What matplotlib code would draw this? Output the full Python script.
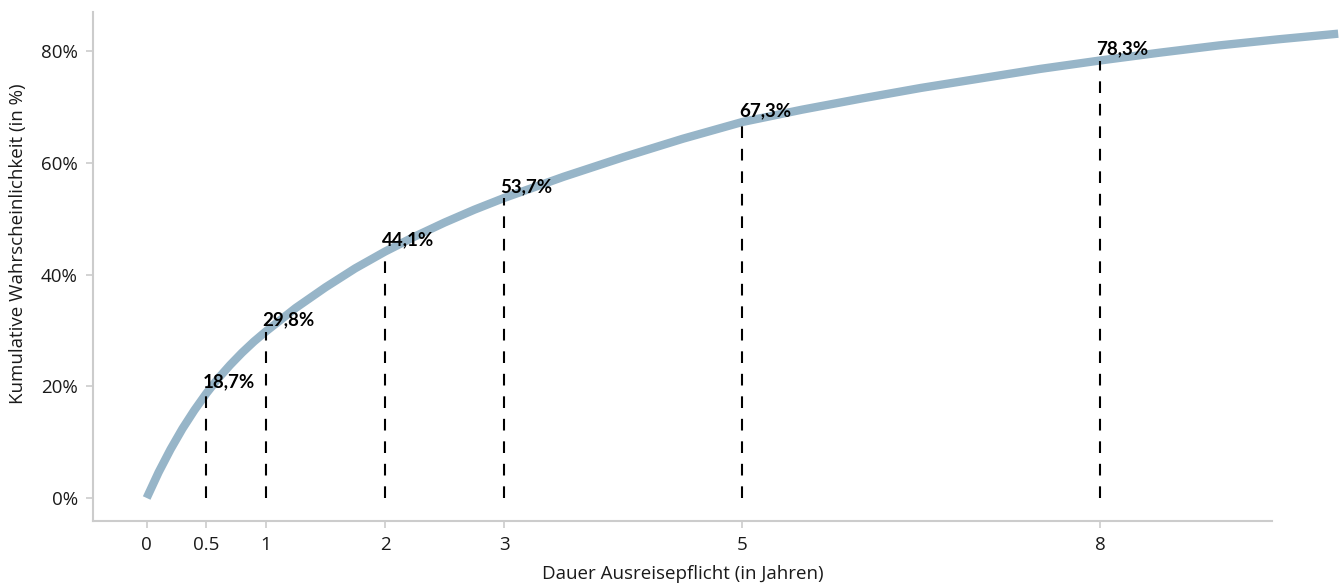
import numpy as np
import matplotlib
matplotlib.use("Agg")
import matplotlib.pyplot as plt

plt.rcParams['font.family'] = ['Open Sans', 'DejaVu Sans']

# curve (years, cumulative %)
years = [0, 0.1, 0.2, 0.3, 0.4, 0.5, 0.6, 0.7, 0.8, 0.9, 1,
         1.25, 1.5, 1.75, 2, 2.25, 2.5, 2.75, 3,
         3.5, 4, 4.5, 5, 5.5, 6, 6.5, 7, 7.5, 8, 8.5, 9, 9.5, 10]
prob = [0, 4.6, 8.7, 12.4, 15.7, 18.7, 21.4, 23.8, 26.0, 28.0, 29.8,
        34.0, 37.7, 41.1, 44.1, 46.8, 49.3, 51.6, 53.7,
        57.5, 61.0, 64.3, 67.3, 69.5, 71.5, 73.4, 75.1, 76.8, 78.3, 79.7, 81.0, 82.1, 83.1]

# marked points
mark_x = [0.5, 1, 2, 3, 5, 8]
mark_y = [18.7, 29.8, 44.1, 53.7, 67.3, 78.3]
mark_lbl = ["18,7%", "29,8%", "44,1%", "53,7%", "67,3%", "78,3%"]

xticks = [0, 0.5, 1, 2, 3, 5, 8]
xtick_lbl = ["0", "0.5", "1", "2", "3", "5", "8"]
yticks = [0, 20, 40, 60, 80]

fig = plt.figure(figsize=(13.41, 5.83), dpi=100)
ax = fig.add_axes([0.0694, 0.1063, 0.8791, 0.8731])

ax.plot(years, prob, color="#97b5c8", lw=6, solid_capstyle="butt",
        solid_joinstyle="round", clip_on=False, zorder=2)

for x, y, t in zip(mark_x, mark_y, mark_lbl):
  ax.plot([x, x], [0, y], color="black", lw=1.5, linestyle=(0, (5.6, 5.2)), zorder=3)
  ax.annotate(t, (x, y), xytext=(-2.5, 4.3), textcoords="offset points",
              ha="left", va="baseline", fontsize=13.5, fontweight="bold",
              family=["Lato", "DejaVu Sans"], zorder=4)

ax.set_xlim(-0.45, 9.444)
ax.set_ylim(-4.12, 86.98)
ax.set_xticks(xticks)
ax.set_xticklabels(xtick_lbl)
ax.set_yticks(yticks)
ax.set_yticklabels([str(v) + "%" for v in yticks])

for s in ["top", "right"]:
  ax.spines[s].set_visible(False)
for s in ["left", "bottom"]:
  ax.spines[s].set_color("#cccccc")
  ax.spines[s].set_linewidth(1.5)
ax.tick_params(colors="#cccccc", labelcolor="#1a1a1a", labelsize=13.5, length=5, width=1.2)
ax.tick_params(axis="y", pad=6)
ax.tick_params(axis="x", pad=6)

ax.set_xlabel("Dauer Ausreisepflicht (in Jahren)", fontsize=13.5, color="#1a1a1a", labelpad=8)
ax.set_ylabel("Kumulative Wahrscheinlichkeit (in %)", fontsize=13.5, color="#1a1a1a")
ax.yaxis.set_label_coords(-0.056, 0.544)

fig.savefig("out.png", dpi=100)
